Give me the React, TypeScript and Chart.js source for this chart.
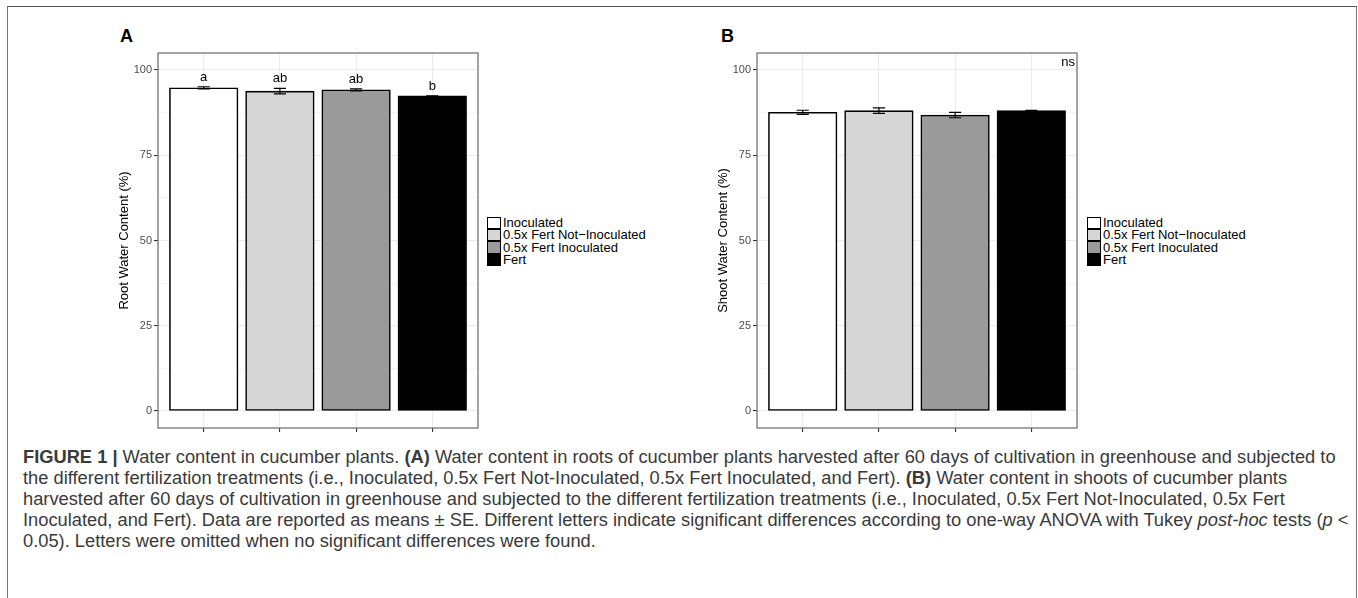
import React, { useEffect, useRef } from 'react';
import { Chart, registerables } from 'chart.js';

Chart.register(...registerables);

// ---------- data ----------
const categories = ['Inoculated', '0.5x Fert Not\u2212Inoculated', '0.5x Fert Inoculated', 'Fert'];
const barColors = ['#FFFFFF', '#D6D6D6', '#9A9A9A', '#000000'];

const rootMeans = [94.8, 93.8, 94.2, 92.4];
const rootSE = [0.3, 0.8, 0.3, 0.05];
const rootLetters = ['a', 'ab', 'ab', 'b'];

const shootMeans = [87.6, 88.1, 86.8, 88.1];
const shootSE = [0.6, 0.8, 0.8, 0.05];
const shootNote = 'ns';

const yMajorTicks = [0, 25, 50, 75, 100];
const yMinorTicks = [12.5, 37.5, 62.5, 87.5];
const yMin = -5;
const yMax = 105;

const FONT = '"Liberation Sans", Arial, Helvetica, sans-serif';

type PanelProps = {
  means: number[];
  se: number[];
  letters?: string[];
  note?: string;
  yTitle: string;
  left: number;
};

function Panel({ means, se, letters, note, yTitle, left }: PanelProps) {
  const ref = useRef<HTMLCanvasElement | null>(null);

  useEffect(() => {
    if (!ref.current) return;
    const overlay = {
      id: 'overlay',
      afterDatasetsDraw(chart: any) {
        const { ctx, chartArea: a, scales } = chart;
        const x = scales.x;
        const y = scales.y;
        ctx.save();
        ctx.strokeStyle = '#000';
        ctx.lineWidth = 1.2;
        means.forEach((m: number, i: number) => {
          const cx = x.getPixelForValue(i);
          const hw = x.getPixelForValue(0.08) - x.getPixelForValue(0);
          const yt = y.getPixelForValue(m + se[i]);
          const yb = y.getPixelForValue(m - se[i]);
          ctx.beginPath();
          ctx.moveTo(cx, yt);
          ctx.lineTo(cx, yb);
          ctx.moveTo(cx - hw, yt);
          ctx.lineTo(cx + hw, yt);
          ctx.moveTo(cx - hw, yb);
          ctx.lineTo(cx + hw, yb);
          ctx.stroke();
          if (letters) {
            ctx.fillStyle = '#000';
            ctx.font = '13px ' + FONT;
            ctx.textAlign = 'center';
            ctx.textBaseline = 'alphabetic';
            ctx.fillText(letters[i], cx, yt - 6);
          }
        });
        if (note) {
          ctx.fillStyle = '#000';
          ctx.font = '13px ' + FONT;
          ctx.textAlign = 'right';
          ctx.textBaseline = 'alphabetic';
          ctx.fillText(note, a.right - 2, y.getPixelForValue(101.2));
        }
        ctx.strokeStyle = '#6a6a6a';
        ctx.lineWidth = 1.2;
        ctx.strokeRect(a.left, a.top, a.right - a.left, a.bottom - a.top);
        ctx.restore();
      },
    };

    const chart = new Chart(ref.current, {
      type: 'bar',
      data: {
        datasets: [
          {
            data: means.map((m, i) => ({ x: i, y: m })),
            backgroundColor: barColors,
            borderColor: '#000',
            borderWidth: 1.6,
            borderSkipped: false,
            barThickness: 'flex',
            categoryPercentage: 0.9,
            barPercentage: 1,
          } as any,
        ],
      },
      options: {
        responsive: false,
        animation: false,
        devicePixelRatio: 1,
        layout: { padding: { top: 13, right: 7, left: 0, bottom: 0 } },
        plugins: { legend: { display: false }, tooltip: { enabled: false } },
        scales: {
          x: {
            type: 'linear',
            min: -0.6,
            max: 3.6,
            offset: false,
            afterBuildTicks: (s: any) => {
              s.ticks = categories.map((_, i) => ({ value: i }));
            },
            afterFit: (s: any) => {
              s.height = 17;
            },
            ticks: { autoSkip: false, callback: () => '' },
            grid: { offset: false, color: '#EBEBEB', lineWidth: 1.1, tickLength: 4, tickColor: '#333', drawTicks: true },
            border: { display: false },
          },
          y: {
            type: 'linear',
            min: yMin,
            max: yMax,
            afterBuildTicks: (s: any) => {
              s.ticks = [...yMajorTicks, ...yMinorTicks].sort((p, q) => p - q).map((v) => ({ value: v }));
            },
            afterFit: (s: any) => {
              s.width = 58;
            },
            ticks: {
              autoSkip: false,
              color: '#4D4D4D',
              font: { size: 11, family: FONT },
              padding: 2,
              callback: (v: any) => (yMajorTicks.includes(Number(v)) ? String(v) : ''),
            },
            grid: {
              color: '#EBEBEB',
              lineWidth: (c: any) => (c.tick && yMajorTicks.includes(c.tick.value) ? 1.1 : 0.55),
              tickLength: 4,
              tickColor: (c: any) => (c.tick && yMajorTicks.includes(c.tick.value) ? '#333' : 'rgba(0,0,0,0)'),
            },
            border: { display: false },
            title: {
              display: true,
              text: yTitle,
              color: '#000',
              font: { size: 13, family: FONT },
              padding: { top: 17, bottom: 0 },
            },
          },
        },
      } as any,
      plugins: [overlay],
    });
    return () => chart.destroy();
  }, [means, se, letters, note, yTitle]);

  return (
    <canvas
      ref={ref}
      width={385}
      height={405}
      style={{ position: 'absolute', left, top: 40, width: 385, height: 405 }}
    />
  );
}

function Legend({ left }: { left: number }) {
  return (
    <div style={{ position: 'absolute', left, top: 217, fontFamily: FONT, fontSize: 13, color: '#000' }}>
      {categories.map((c, i) => (
        <div key={c} style={{ display: 'flex', alignItems: 'center', height: 12, marginTop: i === 0 ? 0 : 0.25 }}>
          <div
            style={{
              width: 14,
              height: 12.5,
              boxSizing: 'border-box',
              border: '1.3px solid #000',
              background: barColors[i],
              marginTop: i === 0 ? 0 : -0.5,
            }}
          />
          <span style={{ marginLeft: 2, lineHeight: '12px', whiteSpace: 'nowrap' }}>{c}</span>
        </div>
      ))}
    </div>
  );
}

const captionStyle: React.CSSProperties = {
  position: 'absolute',
  left: 23,
  whiteSpace: 'nowrap',
  fontFamily: '"Liberation Sans", Arial, sans-serif',
  fontSize: 18.3,
  lineHeight: '21px',
  color: '#3a3a3a',
};

export default function App() {
  return (
    <div
      style={{
        position: 'absolute',
        left: 0,
        top: 0,
        width: 1358,
        height: 598,
        background: '#fff',
        overflow: 'hidden',
      }}
    >
      <div
        style={{
          position: 'absolute',
          left: 7,
          top: 6,
          width: 1348,
          height: 620,
          borderTop: '1px solid #555',
          borderLeft: '1.5px solid #777',
          borderRight: '1.5px solid #777',
        }}
      />
      <div style={{ position: 'absolute', left: 120, top: 27, fontFamily: FONT, fontWeight: 'bold', fontSize: 18, lineHeight: '18px' }}>A</div>
      <div style={{ position: 'absolute', left: 721, top: 27, fontFamily: FONT, fontWeight: 'bold', fontSize: 18, lineHeight: '18px' }}>B</div>

      <Panel means={rootMeans} se={rootSE} letters={rootLetters} yTitle="Root Water Content (%)" left={100} />
      <Panel means={shootMeans} se={shootSE} note={shootNote} yTitle="Shoot Water Content (%)" left={699} />
      <Legend left={487} />
      <Legend left={1087} />

      <div style={{ ...captionStyle, top: 446 }}>
        <b>FIGURE 1 |</b> Water content in cucumber plants. <b>(A)</b> Water content in roots of cucumber plants harvested after 60 days of cultivation in greenhouse and subjected to
      </div>
      <div style={{ ...captionStyle, top: 467 }}>
        the different fertilization treatments (i.e., Inoculated, 0.5x Fert Not-Inoculated, 0.5x Fert Inoculated, and Fert). <b>(B)</b> Water content in shoots of cucumber plants
      </div>
      <div style={{ ...captionStyle, top: 488 }}>
        harvested after 60 days of cultivation in greenhouse and subjected to the different fertilization treatments (i.e., Inoculated, 0.5x Fert Not-Inoculated, 0.5x Fert
      </div>
      <div style={{ ...captionStyle, top: 509 }}>
        Inoculated, and Fert). Data are reported as means {'\u00B1'} SE. Different letters indicate significant differences according to one-way ANOVA with Tukey <i>post-hoc</i> tests (<i>p</i> {'<'}
      </div>
      <div style={{ ...captionStyle, top: 530 }}>
        0.05). Letters were omitted when no significant differences were found.
      </div>
    </div>
  );
}
